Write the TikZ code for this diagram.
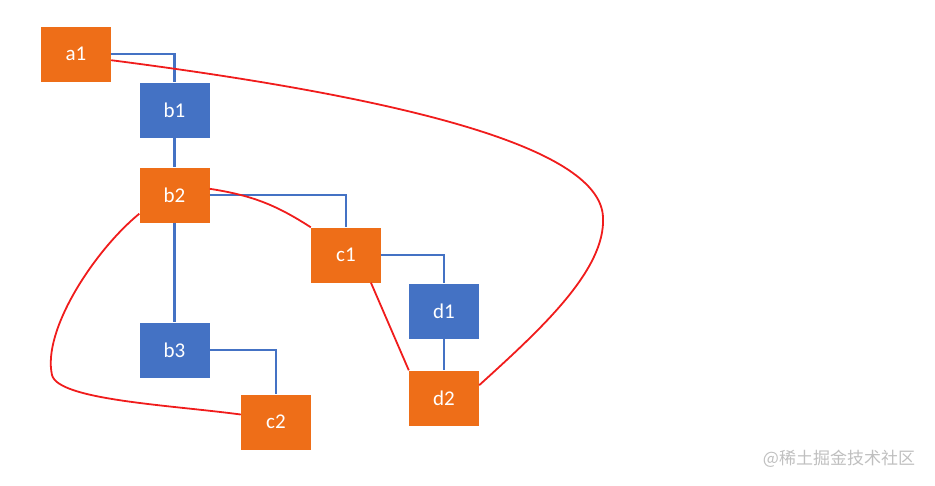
\documentclass[tikz,border=0pt]{standalone}
\usepackage{fontspec}
\setmainfont{Carlito}
\newfontfamily\cjk{Noto Sans CJK SC}
\usepackage{xcolor}
\usetikzlibrary{positioning}
\definecolor{boxorange}{RGB}{238,110,24}
\definecolor{boxblue}{RGB}{68,114,196}
\definecolor{linkred}{RGB}{240,28,28}

\begin{document}
\begin{tikzpicture}[x=1pt, y=-1pt, font=\fontsize{21}{24}\selectfont,
  box/.style={minimum width=70pt, minimum height=55pt, inner sep=0pt, text=white},
  obox/.style={box, fill=boxorange},
  bbox/.style={box, fill=boxblue},
  tree/.style={draw=boxblue, line width=2.8pt},
  link/.style={draw=linkred, line width=1.8pt}]
  \useasboundingbox (0,0) rectangle (935,485);
  \node[obox] (a1) at (76,54) {a1};
  \node[bbox] (b1) at (174.5,110) {b1};
  \node[obox] (b2) at (174.5,195) {b2};
  \node[bbox] (b3) at (174.5,350) {b3};
  \node[obox] (c1) at (346,255) {c1};
  \node[obox] (c2) at (276,422) {c2};
  \node[bbox] (d1) at (444,311) {d1};
  \node[obox] (d2) at (444,398) {d2};
  % tree edges
  \draw[tree] (a1.east) -| (b1.north);
  \draw[tree] (b1) -- (b2);
  \draw[tree] (b2) -- (b3);
  \draw[tree] (b2.east) -| (c1.north);
  \draw[tree] (b3.east) -| (c2.north);
  \draw[tree] (c1.east) -| (d1.north);
  \draw[tree] (d1) -- (d2);
  % red links
  \draw[link] (a1.-10) .. controls (420,100) and (600,150) .. (603,217)
    .. controls (606,270) and (540,330) .. (d2.20);
  \draw[link] (b2.10) to[bend left=12] (c1.north west);
  \draw[link] (c1.-48) -- (d2.north west);
  \draw[link] (b2.208) .. controls (95,250) and (42,330) .. (52,375)
    .. controls (58,400) and (170,405) .. (c2.168);
  \node[text=black!25, font=\cjk\fontsize{17}{19}\selectfont] (mark) at (839,459) {@稀土掘金技术社区};
\end{tikzpicture}
\end{document}
